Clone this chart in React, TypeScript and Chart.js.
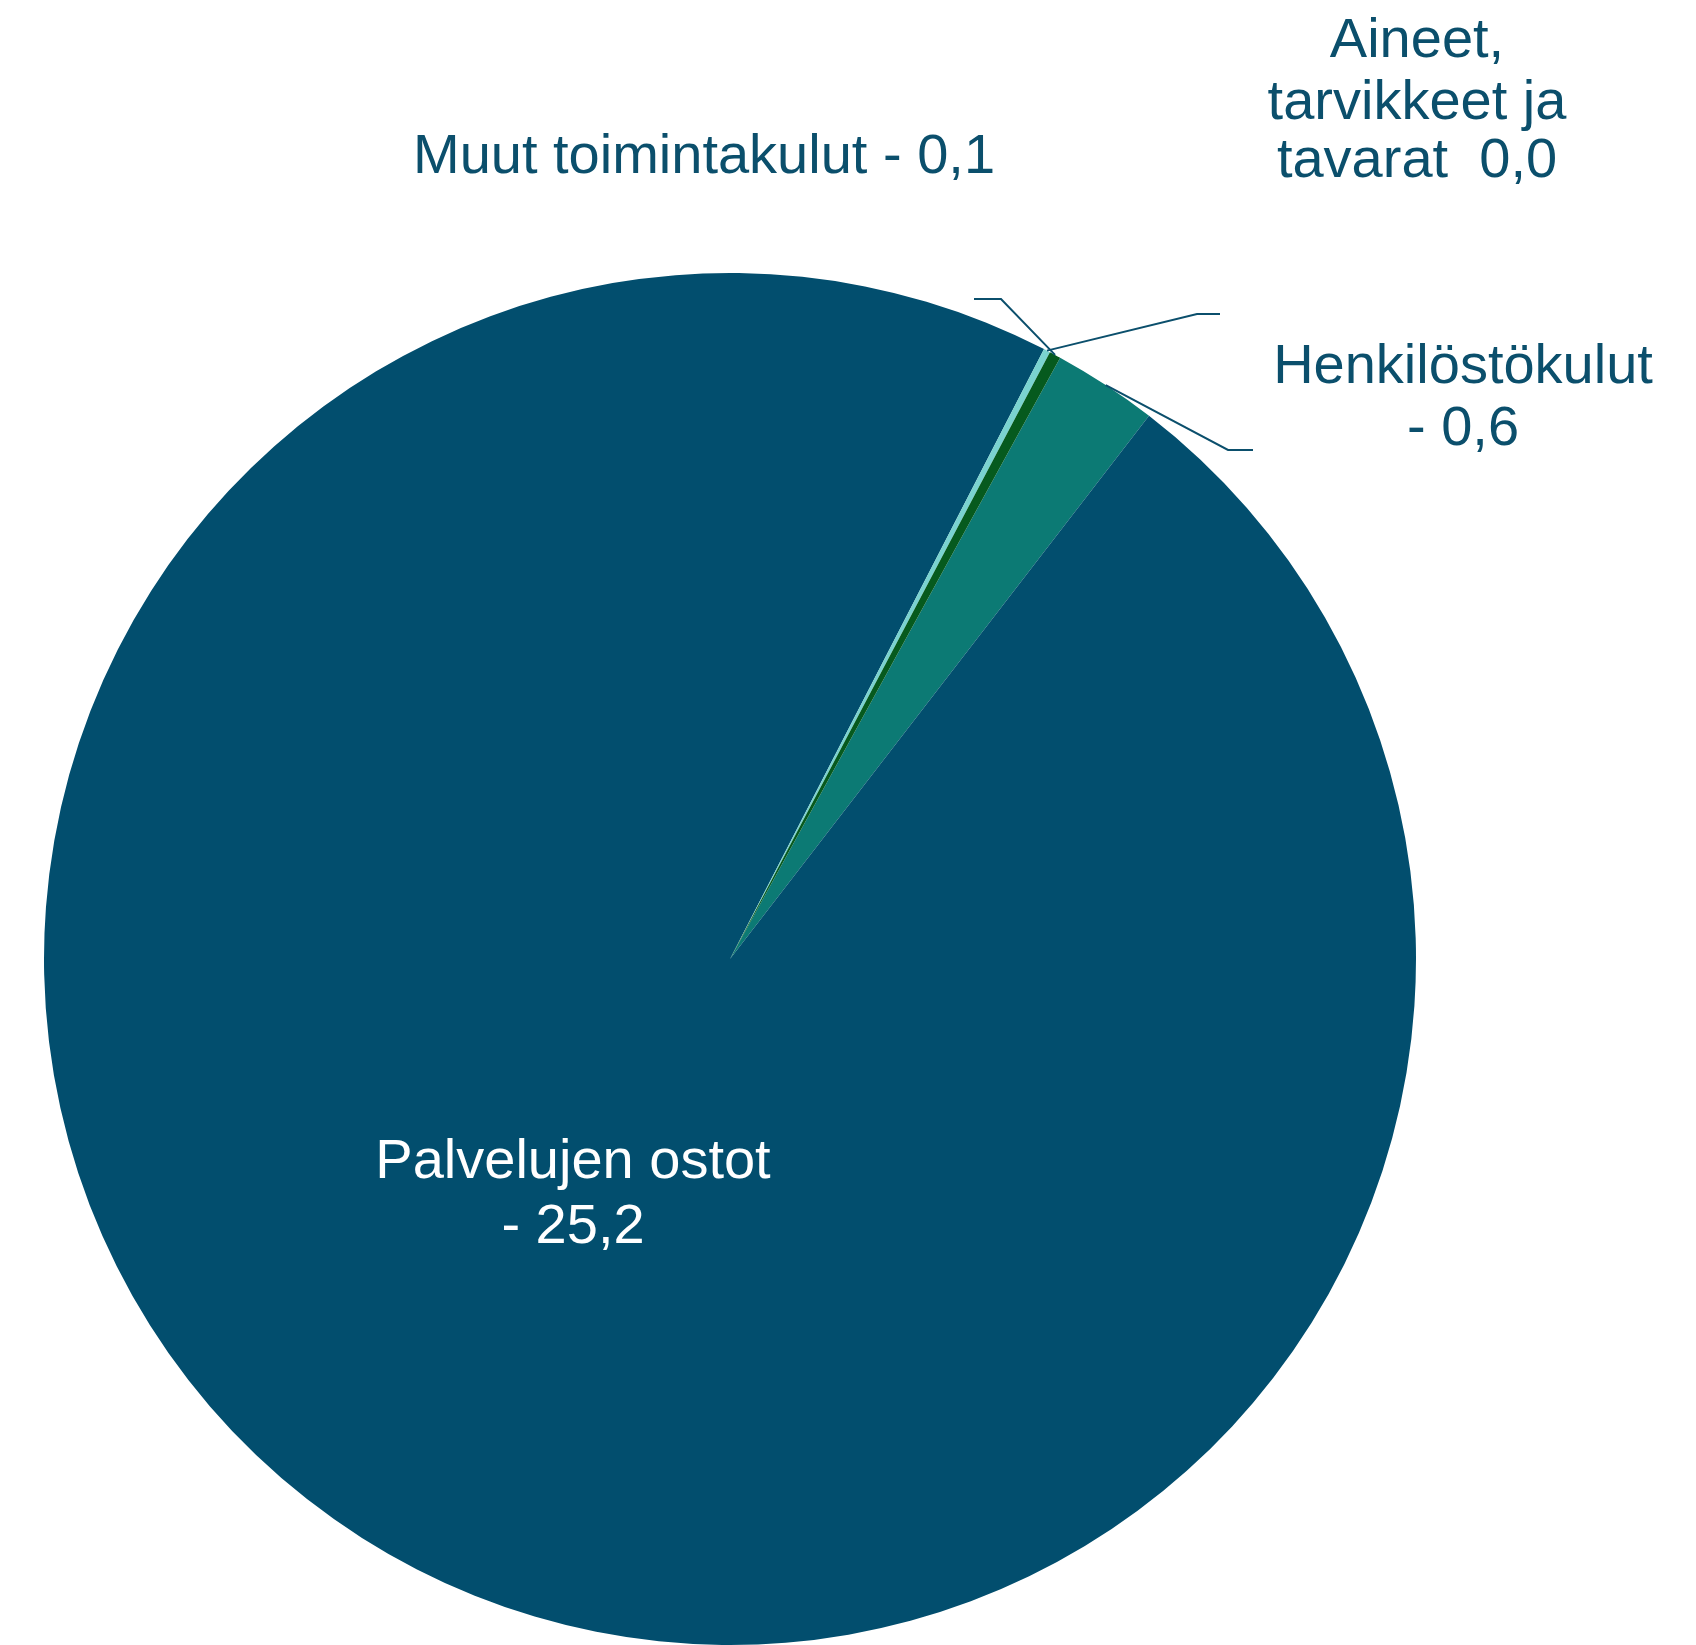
import React, { useEffect, useRef } from "react";
import { Chart, registerables } from "chart.js";

Chart.register(...registerables);

// Data (order follows the clockwise order of the slices)
const categories: string[][] = [
  ["Henkilöstökulut"],
  ["Palvelujen ostot"],
  ["Aineet,", "tarvikkeet ja", "tavarat"],
  ["Muut toimintakulut"],
];
const values: number[] = [-0.64, -25.2, -0.04, -0.07];
const colors: string[] = ["#0C7A74", "#024E6E", "#7AD3D0", "#065A1E"];

const TEXT_COLOR = "#0B4F6C";
const FONT = "56px 'Liberation Sans', Arial, sans-serif";

function fmt(v: number): string {
  const r = Math.round(Math.abs(v) * 10) / 10;
  const s = r.toFixed(1).replace(".", ",");
  if (r === 0) return s;
  return (v < 0 ? "- " : "") + s;
}

// Label layout: lines of text, baselines, and leader line path (elbow, end)
type LabelLayout = {
  lines: (v: number, cat: string[]) => string[];
  x: number;
  baselines: number[];
  color: string;
  leader?: { elbow: [number, number]; end: [number, number] };
};

const layouts: LabelLayout[] = [
  {
    lines: (v, c) => [c[0], fmt(v)],
    x: 1463,
    baselines: [383, 445],
    color: TEXT_COLOR,
    leader: { elbow: [1228, 450], end: [1253, 450] },
  },
  {
    lines: (v, c) => [c[0], fmt(v)],
    x: 573,
    baselines: [1178, 1243],
    color: "#FFFFFF",
  },
  {
    lines: (v, c) => [c[0], c[1], c[2] + "  " + fmt(v)],
    x: 1417,
    baselines: [57, 119, 177],
    color: TEXT_COLOR,
    leader: { elbow: [1197, 314], end: [1220, 314] },
  },
  {
    lines: (v, c) => [c[0] + " " + fmt(v)],
    x: 704,
    baselines: [173],
    color: TEXT_COLOR,
    leader: { elbow: [1001, 299], end: [974, 299] },
  },
];

const labelPlugin = {
  id: "sliceLabels",
  afterDatasetsDraw(chart: any) {
    const ctx: CanvasRenderingContext2D = chart.ctx;
    const meta = chart.getDatasetMeta(0);
    ctx.save();
    meta.data.forEach((arc: any, i: number) => {
      const L = layouts[i];
      const p = arc.getProps(["x", "y", "startAngle", "endAngle", "outerRadius"], true);
      if (L.leader) {
        const mid = (p.startAngle + p.endAngle) / 2;
        const ax = p.x + Math.cos(mid) * p.outerRadius;
        const ay = p.y + Math.sin(mid) * p.outerRadius;
        ctx.beginPath();
        ctx.moveTo(ax, ay);
        ctx.lineTo(L.leader.elbow[0], L.leader.elbow[1]);
        ctx.lineTo(L.leader.end[0], L.leader.end[1]);
        ctx.strokeStyle = TEXT_COLOR;
        ctx.lineWidth = 2;
        ctx.stroke();
      }
      ctx.font = FONT;
      ctx.fillStyle = L.color;
      ctx.textAlign = "center";
      ctx.textBaseline = "alphabetic";
      const lines = L.lines(values[i], categories[i]);
      lines.forEach((t, j) => ctx.fillText(t, L.x, L.baselines[j]));
    });
    ctx.restore();
  },
};

export default function App() {
  const ref = useRef<HTMLCanvasElement | null>(null);
  useEffect(() => {
    if (!ref.current) return;
    const chart = new Chart(ref.current, {
      type: "pie",
      data: {
        labels: categories.map((c) => c.join(" ")),
        datasets: [
          {
            data: values,
            backgroundColor: colors,
            borderWidth: 0,
          },
        ],
      },
      options: {
        responsive: false,
        animation: false,
        rotation: 28.77,
        layout: { padding: { left: 44, right: 280, top: 273, bottom: 0 } },
        plugins: {
          legend: { display: false },
          tooltip: { enabled: false },
        },
      },
      plugins: [labelPlugin],
    });
    return () => chart.destroy();
  }, []);
  return (
    <div style={{ position: "fixed", left: 0, top: 0, width: 1696, height: 1645, background: "#fff" }}>
      <canvas ref={ref} width={1696} height={1645} style={{ width: 1696, height: 1645, display: "block" }} />
    </div>
  );
}
